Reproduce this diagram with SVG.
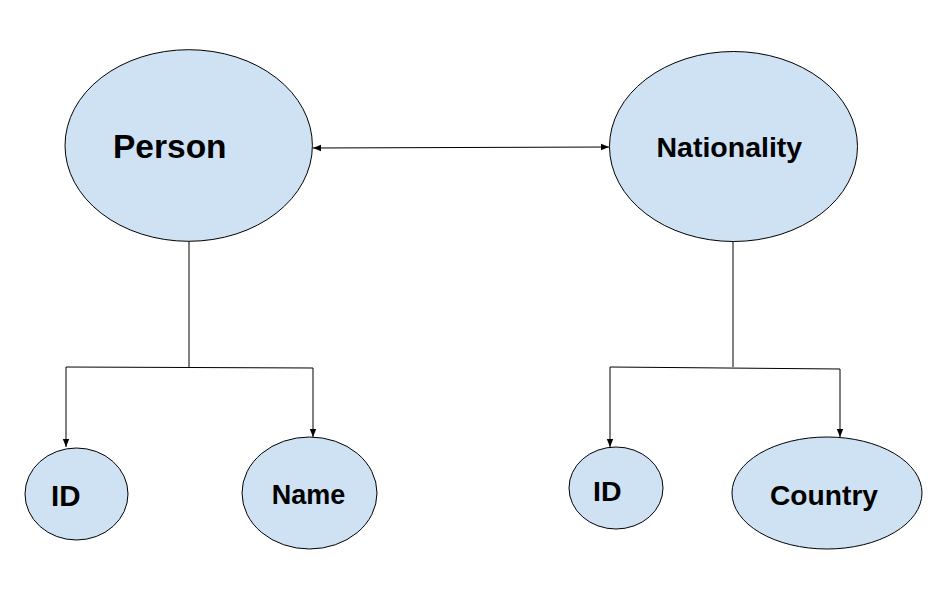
<svg xmlns="http://www.w3.org/2000/svg" width="952" height="607" viewBox="0 0 952 607">
<style>
.n{fill:#cfe2f3;stroke:#000;stroke-width:1}
.t{font-family:"Liberation Sans",Arial,sans-serif;font-weight:bold;fill:#000}
.c{fill:none;stroke:#000;stroke-width:1}
</style>
<defs>
<marker id="ah" viewBox="0 0 10 10" refX="10" refY="5" markerWidth="8" markerHeight="8" markerUnits="userSpaceOnUse" orient="auto-start-reverse">
<path d="M0,1 L10,5 L0,9 Z" fill="#000"/>
</marker>
</defs>
<rect width="952" height="607" fill="#fff"/>
<g id="connectors">
<path class="c" d="M313,148 L609,147" marker-start="url(#ah)" marker-end="url(#ah)"/>
<path class="c" d="M189,241 L189,367"/>
<path class="c" d="M66,367 L313,368"/>
<path class="c" d="M66,367 L66,447" marker-end="url(#ah)"/>
<path class="c" d="M313,368 L313,437" marker-end="url(#ah)"/>
<path class="c" d="M733,241 L733,367"/>
<path class="c" d="M610,367 L840,369"/>
<path class="c" d="M610,367 L610,447" marker-end="url(#ah)"/>
<path class="c" d="M840,369 L840,437" marker-end="url(#ah)"/>
</g>
<g id="person">
<ellipse class="n" cx="188.7" cy="145.5" rx="123.7" ry="95.8"/>
<text class="t" x="113" y="158" font-size="33.5">Person</text>
</g>
<g id="nationality">
<ellipse class="n" cx="733.5" cy="146.5" rx="124" ry="95"/>
<text class="t" x="656.5" y="156.7" font-size="28.5">Nationality</text>
</g>
<g id="person-id">
<ellipse class="n" cx="76.5" cy="494" rx="51.5" ry="46"/>
<text class="t" x="51" y="505.7" font-size="29.5">ID</text>
</g>
<g id="person-name">
<ellipse class="n" cx="309.5" cy="493" rx="67.5" ry="56"/>
<text class="t" x="271.7" y="504.3" font-size="27">Name</text>
</g>
<g id="nationality-id">
<ellipse class="n" cx="616" cy="488" rx="47" ry="41"/>
<text class="t" x="593" y="500.7" font-size="28.5">ID</text>
</g>
<g id="nationality-country">
<ellipse class="n" cx="827" cy="493" rx="95" ry="56"/>
<text class="t" x="770" y="505" font-size="28.2">Country</text>
</g>
</svg>
